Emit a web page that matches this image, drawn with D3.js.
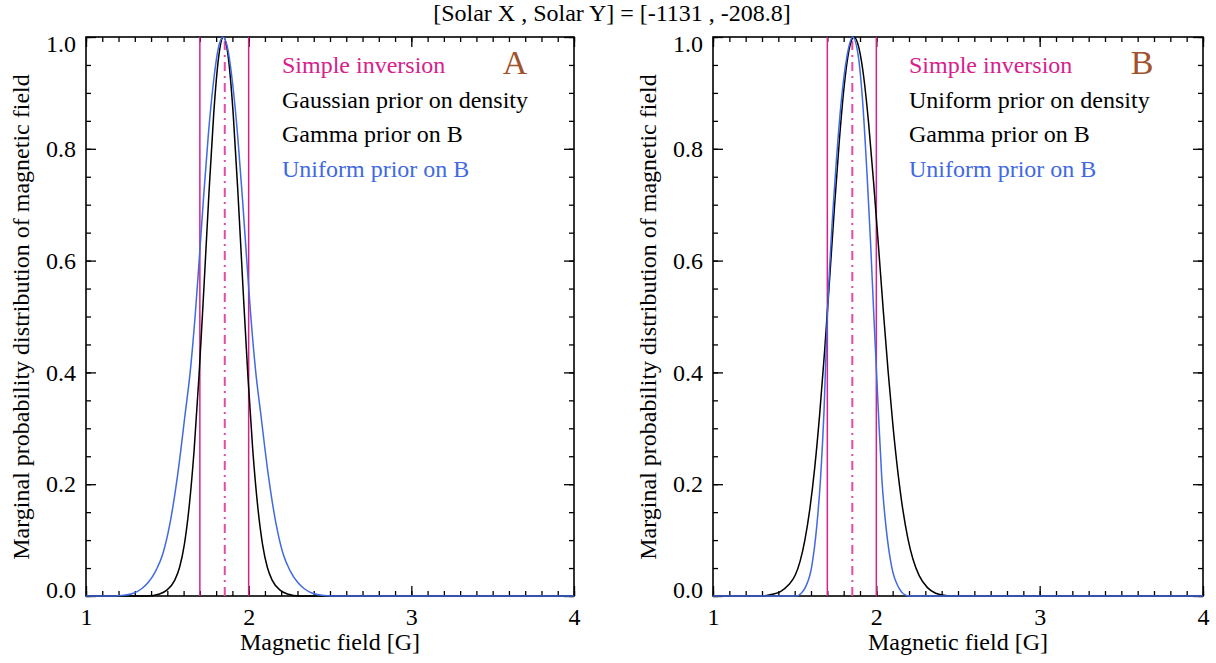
<!DOCTYPE html>
<html>
<head>
<meta charset="utf-8">
<script src="https://cdn.jsdelivr.net/npm/d3@7"></script>
<style>
  body { margin: 0; background: #fff; }
  svg { display: block; }
  svg text { font-family: "Liberation Serif", "Times New Roman", serif; }
</style>
</head>
<body>
<svg id="chart" width="1216" height="663"></svg>
<script>
// values: [B (G), marginal probability]
const blackA = [[1.0,0],[1.385,0],[1.445,0.003],[1.495,0.010],[1.545,0.028],[1.575,0.051],[1.605,0.093],[1.635,0.162],
  [1.665,0.262],[1.695,0.395],[1.725,0.552],[1.755,0.716],[1.785,0.862],[1.815,0.963],[1.845,1.0],[1.875,0.963],
  [1.905,0.862],[1.935,0.716],[1.965,0.552],[1.995,0.395],[2.025,0.262],[2.055,0.162],[2.085,0.093],[2.115,0.051],
  [2.145,0.028],[2.195,0.010],[2.245,0.003],[2.305,0],[4.0,0]]
const blueA = [[1.0,0],[1.142,0],[1.222,0.001],[1.292,0.005],[1.342,0.013],[1.382,0.024],[1.429,0.045],[1.472,0.075],
  [1.515,0.128],[1.564,0.218],[1.608,0.322],[1.642,0.405],[1.672,0.505],[1.692,0.585],[1.722,0.710],[1.752,0.825],
  [1.782,0.915],[1.812,0.978],[1.842,1.0],[1.872,0.978],[1.902,0.915],[1.932,0.825],[1.962,0.710],[1.992,0.585],
  [2.012,0.505],[2.042,0.405],[2.076,0.322],[2.120,0.218],[2.169,0.128],[2.212,0.075],[2.255,0.045],[2.302,0.024],
  [2.342,0.013],[2.392,0.005],[2.462,0.001],[2.542,0],[4.0,0]]
const blackB = [[1.0,0],[1.303,0],[1.363,0.003],[1.413,0.008],[1.463,0.020],[1.503,0.037],[1.533,0.062],[1.563,0.101],
  [1.593,0.156],[1.623,0.230],[1.653,0.325],[1.683,0.437],[1.713,0.563],[1.743,0.693],[1.773,0.813],[1.803,0.912],
  [1.833,0.977],[1.863,1.0],[1.893,0.981],[1.923,0.928],[1.953,0.845],[1.983,0.741],[2.013,0.626],[2.043,0.509],
  [2.073,0.399],[2.103,0.301],[2.133,0.219],[2.163,0.153],[2.193,0.103],[2.223,0.067],[2.263,0.036],[2.313,0.015],
  [2.363,0.005],[2.423,0.001],[2.483,0],[4.0,0]]
const blueB = [[1.0,0],[1.51,0],[1.54,0.005],[1.563,0.014],[1.604,0.052],[1.635,0.124],[1.659,0.213],[1.680,0.333],
  [1.700,0.50],[1.722,0.63],[1.747,0.744],[1.788,0.893],[1.820,0.965],[1.855,1.0],[1.890,0.965],[1.914,0.893],
  [1.945,0.744],[1.965,0.63],[1.985,0.50],[2.012,0.333],[2.033,0.213],[2.059,0.124],[2.094,0.052],[2.139,0.014],
  [2.165,0.004],[2.20,0],[4.0,0]]

// simple inversion: error bounds and best value
const inversionBounds = [1.70, 2.00]
const inversionBest = 1.853

const xMajor = [1, 2, 3, 4]
const yMajor = [0, 0.2, 0.4, 0.6, 0.8, 1.0]

const legendA = ["Simple inversion", "Gaussian prior on density", "Gamma prior on B", "Uniform prior on B"]
const legendB = ["Simple inversion", "Uniform prior on density", "Gamma prior on B", "Uniform prior on B"]

const title = "[Solar X , Solar Y] = [-1131 , -208.8]"

const serif = '"Liberation Serif", "Times New Roman", serif'
const pink = "#d6218c", blue = "#4169e1", brown = "#a0522d"
const legendColors = [pink, "#000", "#000", blue]

let svg = d3.select("#chart")

svg.append("text")
    .attr("x", 612)
    .attr("y", 21)
    .attr("text-anchor", "middle")
    .style("font-family", serif)
    .style("font-size", "24px")
    .text(title)

const drawPanel = (left, right, black, bluec, legend, tag) => {
    let top = 37, bottom = 596
    let x = d3.scaleLinear().domain([1, 4]).range([left, right]),
        y = d3.scaleLinear().domain([0, 1]).range([bottom, top])
    let g = svg.append("g")

    // ticks point inward, on all four sides
    const tickAxis = (axis, transform, labels) => {
        let a = g.append("g").attr("transform", transform).call(axis)
        a.attr("font-family", null).attr("font-size", null)
        a.select(".domain").remove()
        a.selectAll("line").attr("stroke", "#000").attr("stroke-width", 1.3)
        if (!labels) a.selectAll("text").remove()
        else a.selectAll("text")
            .style("font-family", serif)
            .style("font-size", "24px")
            .attr("fill", "#000")
        return a
    }
    tickAxis(d3.axisBottom(x).ticks(30).tickSize(-5).tickFormat(""), `translate(0,${bottom})`, false)
    tickAxis(d3.axisTop(x).ticks(30).tickSize(-5).tickFormat(""), `translate(0,${top})`, false)
    tickAxis(d3.axisBottom(x).tickValues(xMajor).tickSize(-10).tickPadding(12).tickFormat(d3.format("d")), `translate(0,${bottom})`, true)
    tickAxis(d3.axisTop(x).tickValues(xMajor).tickSize(-10).tickFormat(""), `translate(0,${top})`, false)
    tickAxis(d3.axisLeft(y).ticks(20).tickSize(-5).tickFormat(""), `translate(${left},0)`, false)
    tickAxis(d3.axisRight(y).ticks(20).tickSize(-5).tickFormat(""), `translate(${right},0)`, false)
    let yl = tickAxis(d3.axisLeft(y).tickValues(yMajor).tickSize(-10).tickPadding(10).tickFormat(d3.format(".1f")), `translate(${left},0)`, true)
    tickAxis(d3.axisRight(y).tickValues(yMajor).tickSize(-10).tickFormat(""), `translate(${right},0)`, false)
    // end labels sit a little inside the frame
    yl.selectAll("text").attr("dy", d => d === 1 ? "0.6em" : d === 0 ? "0.05em" : "0.32em")

    g.append("rect")
        .attr("x", left).attr("y", top)
        .attr("width", right - left).attr("height", bottom - top)
        .attr("fill", "none").attr("stroke", "#000").attr("stroke-width", 1.6)

    // simple inversion
    g.selectAll(".bound")
        .data(inversionBounds)
        .enter().append("line")
        .attr("x1", d => x(d)).attr("x2", d => x(d))
        .attr("y1", y(0)).attr("y2", y(1))
        .attr("stroke", pink).attr("stroke-width", 1.5)
    g.append("line")
        .attr("x1", x(inversionBest)).attr("x2", x(inversionBest))
        .attr("y1", y(0)).attr("y2", y(1))
        .attr("stroke", "#e04ca6").attr("stroke-width", 2)
        .attr("stroke-dasharray", "9,5,2,5")

    let line = d3.line()
        .curve(d3.curveMonotoneX)
        .x(d => x(d[0]))
        .y(d => y(d[1]))

    g.append("path").datum(black)
        .attr("d", line).attr("fill", "none")
        .attr("stroke", "#000").attr("stroke-width", 1.5)
    g.append("path").datum(bluec)
        .attr("d", line).attr("fill", "none")
        .attr("stroke", blue).attr("stroke-width", 1.5)

    // legend
    g.selectAll(".leg")
        .data(legend)
        .enter().append("text")
        .attr("x", left + 196)
        .attr("y", (d, i) => 73 + i * 34.7)
        .attr("fill", (d, i) => legendColors[i])
        .style("font-family", serif)
        .style("font-size", "24px")
        .text(d => d)
    g.append("text")
        .attr("x", left + 429)
        .attr("y", 74)
        .attr("text-anchor", "middle")
        .attr("fill", brown)
        .style("font-family", serif)
        .style("font-size", "34px")
        .text(tag)

    // axis titles
    g.append("text")
        .attr("x", (left + right) / 2)
        .attr("y", 650)
        .attr("text-anchor", "middle")
        .style("font-family", serif)
        .style("font-size", "24px")
        .text("Magnetic field [G]")
    g.append("text")
        .attr("transform", `translate(${left - 57},317) rotate(-90)`)
        .attr("text-anchor", "middle")
        .style("font-family", serif)
        .style("font-size", "24px")
        .text("Marginal probability distribution of magnetic field")
}

drawPanel(86, 574, blackA, blueA, legendA, "A")
drawPanel(713, 1203, blackB, blueB, legendB, "B")
</script>
</body>
</html>
